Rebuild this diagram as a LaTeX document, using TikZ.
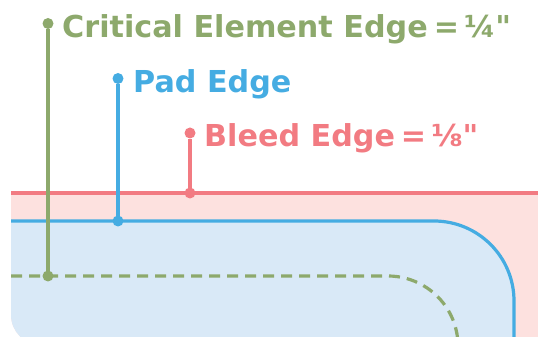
\documentclass[tikz,border=0pt]{standalone}
\usepackage{fontspec}
\setmainfont{DejaVu Sans}[Ligatures=TeXOff]
\definecolor{critgreen}{HTML}{8DA96C}
\definecolor{padblue}{HTML}{45ACE2}
\definecolor{bleedred}{HTML}{F27B82}
\definecolor{bleedfill}{HTML}{FDE1DF}
\definecolor{padfill}{HTML}{D9E9F7}

\begin{document}
\begin{tikzpicture}[x=1pt,y=1pt,
    edge/.style={line width=3.2pt},
    pin/.style={circle,fill,inner sep=0pt,minimum size=11pt},
    edgelabel/.style={anchor=base west,inner sep=0pt,font=\fontsize{30.2}{36}\selectfont\bfseries}]
            \useasboundingbox (0,0) rectangle (538,337);
            \clip (0,0) rectangle (538,337);
            \fill[bleedfill] (11,144) -- (538,144) -- (538,-8) -- (41,-8) arc[start angle=270,end angle=180,radius=30] -- cycle;
            \fill[padfill] (11,116) -- (434,116) arc[start angle=90,end angle=0,radius=80]
                -- (514,-8) -- (41,-8) arc[start angle=270,end angle=180,radius=30] -- cycle;
            \draw[edge,bleedred] (11,144) -- (538,144);
            \draw[edge,padblue] (11,116) -- (434,116) arc[start angle=90,end angle=0,radius=80] -- (514,-5);
            \draw[edge,critgreen,dash pattern=on 11pt off 7pt] (11,61) -- (388,61) arc[start angle=90,end angle=-10,radius=70];
            % markers and labels
            \coordinate (critend) at (48,61);
            \coordinate (padend) at (118,116);
            \coordinate (bleedend) at (190,144);
            \node[pin,critgreen] (critdot) at (48,313.5) {};
            \node[pin,padblue] (paddot) at (118,258.5) {};
            \node[pin,bleedred] (bleeddot) at (190,204) {};
            \node[pin,critgreen] at (critend) {};
            \node[pin,padblue] at (padend) {};
            \node[pin,bleedred] at (bleedend) {};
            \draw[edge,critgreen] (critdot) -- (critend);
            \draw[edge,padblue] (paddot) -- (padend);
            \draw[edge,bleedred] (bleeddot) -- (bleedend);
            \node[edgelabel,critgreen] (critlabel) at (62,299.7) {Critical Element Edge\kern6pt=\kern5pt¼"};
            \node[edgelabel,padblue] (padlabel) at (133,244.7) {Pad Edge};
            \node[edgelabel,bleedred] (bleedlabel) at (204,190) {Bleed Edge\kern6pt=\kern5pt⅛"};
        \end{tikzpicture}
\end{document}
